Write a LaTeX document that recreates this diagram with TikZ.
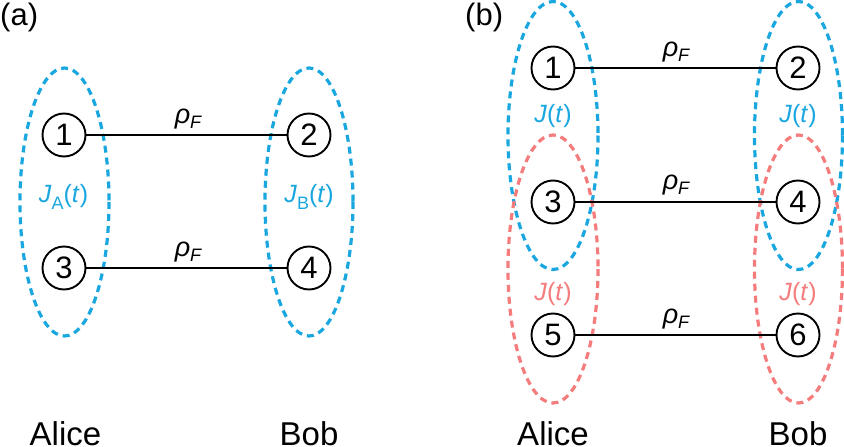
\documentclass[tikz,border=0pt]{standalone}
\usepackage{fontspec}
\setmainfont{Liberation Sans}
\definecolor{jblue}{HTML}{1AA7DF}
\definecolor{jred}{HTML}{F47C7C}
\begin{document}
\begin{tikzpicture}[x=1pt,y=-1pt,
  qubit/.style={draw, circle, line width=1.9pt, minimum size=43pt, inner sep=0pt, font=\fontsize{31}{31}\selectfont},
  link/.style={line width=1.9pt},
  bluedash/.style={draw=jblue, line width=3.2pt, dash pattern=on 7pt off 5pt},
  reddash/.style={draw=jred, line width=3.2pt, dash pattern=on 7pt off 5pt},
  rholab/.style={font=\fontsize{27}{27}\selectfont, inner sep=0pt},
  jlab/.style={font=\fontsize{25}{25}\selectfont, inner sep=0pt},
  namelab/.style={font=\fontsize{33}{33}\selectfont, inner sep=0pt, text depth=0pt, anchor=base},
  panellab/.style={font=\fontsize{31}{31}\selectfont, inner sep=0pt, anchor=base west}
]
\useasboundingbox (0,0) rectangle (844,447);
\newcommand{\rhoF}{{\itshape ρ\raisebox{-0.2em}{\fontsize{18}{18}\selectfont F}}}

% ---------- panel (a)
\node[panellab] (pa) at (0,25) {(a)};
\draw[bluedash] (64.5,202) ellipse [x radius=44.5, y radius=134];
\draw[bluedash] (309,202) ellipse [x radius=44, y radius=134];
\node[qubit] (a1) at (64,135) {1};
\node[qubit] (a2) at (309,135) {2};
\node[qubit] (a3) at (64,268) {3};
\node[qubit] (a4) at (309,268) {4};
\draw[link] (a1) -- (a2);
\draw[link] (a3) -- (a4);
\node[rholab] (ra1) at (188,119) {\rhoF};
\node[rholab] (ra2) at (188,252) {\rhoF};
\node[jlab, text=jblue] (ja) at (63.5,197) {\textit{J}\raisebox{-0.25em}{\fontsize{18}{18}\selectfont A}(\textit{t})};
\node[jlab, text=jblue] (jb) at (309,197) {\textit{J}\raisebox{-0.25em}{\fontsize{18}{18}\selectfont B}(\textit{t})};
\node[namelab] (alicea) at (65.5,445) {Alice};
\node[namelab] (boba) at (309,445) {Bob};

% ---------- panel (b)
\node[panellab] (pb) at (465,25) {(b)};
\draw[bluedash] (553,135.5) ellipse [x radius=45, y radius=134];
\draw[bluedash] (798.5,135.5) ellipse [x radius=44, y radius=134];
\draw[reddash] (553,269) ellipse [x radius=45, y radius=134];
\draw[reddash] (798.5,269) ellipse [x radius=44, y radius=134];
\node[qubit] (b1) at (553,68) {1};
\node[qubit] (b2) at (798,68) {2};
\node[qubit] (b3) at (553,202) {3};
\node[qubit] (b4) at (798,202) {4};
\node[qubit] (b5) at (553,335) {5};
\node[qubit] (b6) at (798,335) {6};
\draw[link] (b1) -- (b2);
\draw[link] (b3) -- (b4);
\draw[link] (b5) -- (b6);
\node[rholab] (rb1) at (676,52) {\rhoF};
\node[rholab] (rb2) at (676,185) {\rhoF};
\node[rholab] (rb3) at (676,319) {\rhoF};
\node[jlab, text=jblue] (jb1) at (553,116) {\textit{J}(\textit{t})};
\node[jlab, text=jblue] (jb2) at (798,116) {\textit{J}(\textit{t})};
\node[jlab, text=jred] (jr1) at (553,294) {\textit{J}(\textit{t})};
\node[jlab, text=jred] (jr2) at (798,294) {\textit{J}(\textit{t})};
\node[namelab] (aliceb) at (553,445) {Alice};
\node[namelab] (bobb) at (798,445) {Bob};
\end{tikzpicture}
\end{document}
